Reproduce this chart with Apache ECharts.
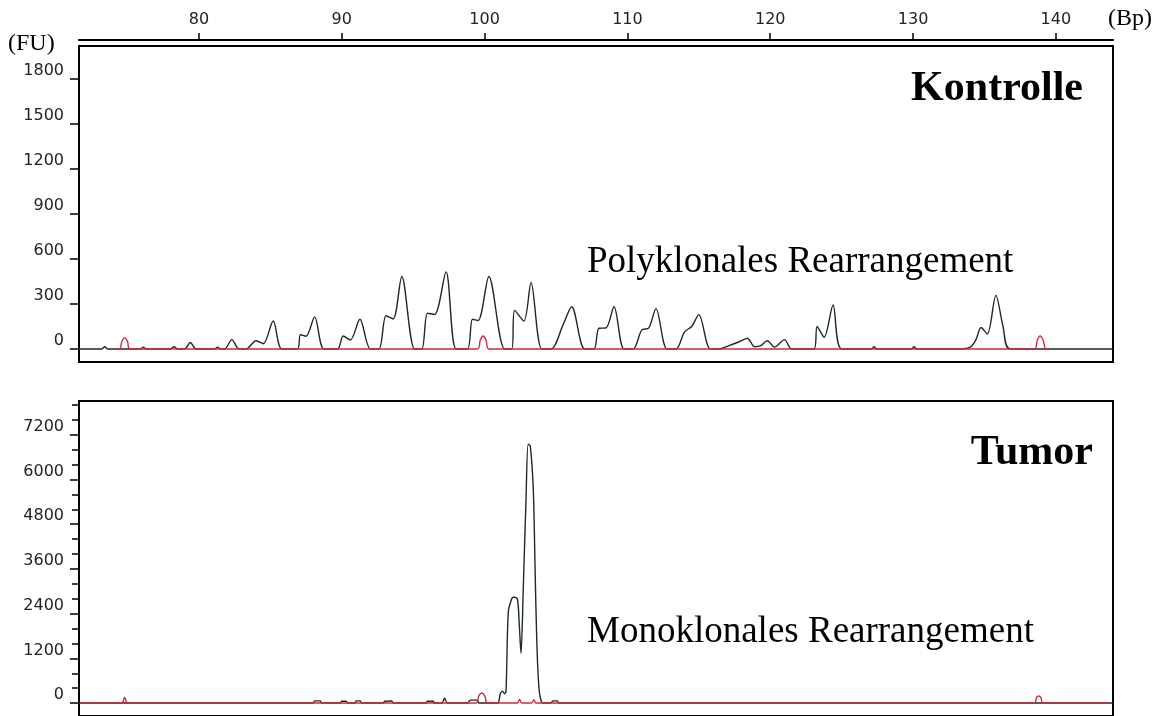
<!DOCTYPE html>
<html>
<head>
<meta charset="utf-8">
<title>Kontrolle / Tumor</title>
<script src="https://cdn.jsdelivr.net/npm/echarts@6/dist/echarts.min.js"></script>
<style>
    html, body { margin: 0; padding: 0; background: #fff; }
    #chart { width: 1167px; height: 716px; }
</style>
</head>
<body>
<div id="chart"></div>
<script>
// fragment length axis (Bp)
const bpTicks = [80, 90, 100, 110, 120, 130, 140];
const bpMin = 71.6;
const bpMax = 144.0;

// fluorescence axes (FU)
const kontrolleTicks = [0, 300, 600, 900, 1200, 1500, 1800];
const tumorTicks = [0, 1200, 2400, 3600, 4800, 6000, 7200];
const tumorMinorTicks = [400, 800, 1600, 2000, 2800, 3200, 4000, 4400, 5200, 5600, 6400, 6800, 7600, 8000];

// Kontrolle: sample trace [bp, FU]
const kontrolleBlack = [
    [71.6, 0], [73.2, 0], [73.4, 15], [73.6, 0],
    [75.9, 0], [76.1, 12], [76.3, 0],
    [78.0, 0], [78.25, 15], [78.5, 0],
    [79.0, 0], [79.4, 43], [79.8, 0],
    [81.1, 0], [81.3, 12], [81.5, 0],
    [81.8, 0], [82.3, 62], [82.8, 0],
    [83.3, 0], [84.0, 55], [84.5, 35], [85.2, 186], [85.8, 0],
    [86.9, 0], [87.1, 95], [87.5, 85], [88.1, 214], [88.75, 0],
    [89.7, 0], [90.1, 86], [90.6, 60], [91.27, 198], [92.0, 0],
    [92.6, 0], [93.1, 221], [93.6, 200], [94.2, 483], [95.1, 0],
    [95.6, 0], [96.0, 238], [96.5, 230], [97.3, 514], [98.0, 0],
    [98.8, 0], [99.15, 198], [99.55, 190], [100.3, 483], [101.4, 0],
    [101.9, 0], [102.1, 257], [102.75, 186], [103.25, 443], [104.0, 0],
    [104.65, 0], [105.5, 162], [106.1, 281], [107.0, 0],
    [107.66, 0], [108.0, 138], [108.5, 140], [109.06, 281], [109.76, 0],
    [110.4, 0], [111.0, 126], [111.5, 140], [112.0, 269], [112.77, 0],
    [113.4, 0], [114.0, 114], [114.5, 150], [115.0, 229], [115.8, 0],
    [116.4, 0], [117.2, 25], [118.0, 55], [118.4, 71], [118.9, 15], [119.3, 20], [119.8, 55], [120.3, 12], [121.0, 62], [121.5, 0],
    [123.07, 0], [123.28, 150], [123.77, 78], [124.4, 293], [125.0, 0],
    [127.1, 0], [127.27, 15], [127.45, 0],
    [129.9, 0], [130.07, 15], [130.25, 0],
    [133.3, 0], [134.0, 12], [134.4, 60], [134.76, 143], [135.2, 100], [135.8, 357], [136.3, 150], [136.8, 0],
    [144.0, 0]
];

// Kontrolle: size marker trace
const kontrolleRed = [
    [74.1, 0], [74.45, 0], [74.6, 50], [74.8, 74], [75.0, 50], [75.15, 0],
    [99.5, 0], [99.7, 60], [99.9, 86], [100.1, 60], [100.3, 0],
    [138.5, 0], [138.7, 60], [138.9, 86], [139.1, 60], [139.3, 0], [139.6, 0]
];

// Tumor: sample trace
const tumorBlack = [
    [71.6, 0],
    [88.0, 0], [88.1, 60], [88.5, 60], [88.6, 0],
    [89.9, 0], [90.0, 50], [90.3, 50], [90.4, 0],
    [90.9, 0], [91.0, 60], [91.3, 60], [91.4, 0],
    [92.9, 0], [93.0, 50], [93.5, 60], [93.6, 0],
    [95.9, 0], [96.0, 50], [96.4, 50], [96.5, 0],
    [97.0, 0], [97.2, 130], [97.4, 0],
    [98.8, 0], [99.0, 80], [99.5, 80], [99.6, 0],
    [100.9, 0], [101.1, 250], [101.25, 320], [101.4, 250], [101.5, 320], [101.66, 2444], [101.9, 2800], [102.01, 2840],
    [102.29, 2800], [102.43, 2089], [102.55, 1333], [102.71, 3111], [102.9, 5467], [103.05, 6950], [103.2, 6890],
    [103.41, 5733], [103.53, 3689], [103.65, 1733], [103.83, 311], [104.1, 0],
    [104.6, 0], [104.8, 60], [105.1, 60], [105.2, 0],
    [144.0, 0]
];

// Tumor: size marker trace
const tumorRed = [
    [71.7, 0], [74.6, 0], [74.8, 160], [75.0, 0],
    [99.4, 0], [99.6, 200], [99.8, 270], [100.0, 200], [100.2, 0],
    [102.3, 0], [102.45, 100], [102.6, 0],
    [103.3, 0], [103.45, 90], [103.6, 0],
    [138.5, 0], [138.65, 150], [138.8, 190], [138.95, 150], [139.1, 0], [143.6, 0]
];

const traceColor = '#1c2b1c';
const markerColor = '#cc2a44';
const labelFont = { fontFamily: 'DejaVu Sans', fontSize: 16, color: '#222' };
const serif = 'Liberation Serif';

var chart = echarts.init(document.getElementById('chart'), null, { renderer: 'canvas' });

var plainNumber = function (v) {
    return String(v);
};

var valueAxis = function (gridIndex, min, max, ticks) {
    return {
        type: 'value',
        gridIndex: gridIndex,
        min: min,
        max: max,
        splitLine: { show: false },
        axisLine: { show: true, onZero: false, lineStyle: { color: '#000', width: 2 } },
        axisTick: { show: true, inside: false, length: 9, customValues: ticks, lineStyle: { color: '#000', width: 1.5 } },
        axisLabel: Object.assign({ show: true, customValues: ticks, margin: 15, verticalAlign: 'bottom', formatter: plainNumber }, labelFont)
    };
};

var traceSeries = function (axisIndex, data, color, z) {
    return {
        type: 'line',
        xAxisIndex: axisIndex,
        yAxisIndex: axisIndex,
        data: data,
        showSymbol: false,
        smooth: 0.3,
        z: z,
        lineStyle: { color: color, width: 1.4 },
        emphasis: { disabled: true }
    };
};

var option = {
    animation: false,
    backgroundColor: '#fff',
    grid: [
        { left: 79, width: 1034, top: 46, height: 316, show: true, borderColor: '#000', borderWidth: 2, backgroundColor: 'transparent' },
        { left: 79, width: 1034, top: 401, height: 317, show: true, borderColor: '#000', borderWidth: 2, backgroundColor: 'transparent' }
    ],
    xAxis: [{
        type: 'value',
        gridIndex: 0,
        position: 'top',
        offset: 6,
        min: bpMin,
        max: bpMax,
        splitLine: { show: false },
        axisLine: { show: true, onZero: false, lineStyle: { color: '#000', width: 2 } },
        axisTick: { show: true, inside: false, length: 7, customValues: bpTicks, lineStyle: { color: '#000', width: 1.5 } },
        axisLabel: Object.assign({ show: true, customValues: bpTicks, margin: 12, formatter: plainNumber }, labelFont)
    }, {
        type: 'value',
        gridIndex: 1,
        min: bpMin,
        max: bpMax,
        show: false,
        axisLine: { onZero: false }
    }],
    yAxis: [
        valueAxis(0, -87, 2020, kontrolleTicks),
        valueAxis(1, -347, 8107, tumorTicks),
        {
            type: 'value',
            gridIndex: 1,
            position: 'left',
            min: -347,
            max: 8107,
            splitLine: { show: false },
            axisLine: { show: false, onZero: false },
            axisLabel: { show: false },
            axisTick: { show: true, inside: false, length: 7, customValues: tumorMinorTicks, lineStyle: { color: '#000', width: 1.5 } }
        }
    ],
    series: [
        traceSeries(0, kontrolleBlack, traceColor, 2),
        traceSeries(0, kontrolleRed, markerColor, 3),
        traceSeries(1, tumorBlack, traceColor, 2),
        traceSeries(1, tumorRed, markerColor, 3)
    ],
    graphic: [
        { type: 'text', left: 8, top: 32, style: { text: '(FU)', font: '24px "' + serif + '"', fill: '#000' } },
        { type: 'text', left: 1108, top: 7, style: { text: '(Bp)', font: '24px "' + serif + '"', fill: '#000' } },
        { type: 'text', x: 1083, y: 89, style: { text: 'Kontrolle', font: 'bold 42px "' + serif + '"', fill: '#000', align: 'right', verticalAlign: 'middle' } },
        { type: 'text', x: 1093, y: 453, style: { text: 'Tumor', font: 'bold 42px "' + serif + '"', fill: '#000', align: 'right', verticalAlign: 'middle' } },
        { type: 'text', x: 587, y: 262, style: { text: 'Polyklonales Rearrangement', font: '37px "' + serif + '"', fill: '#000', align: 'left', verticalAlign: 'middle' } },
        { type: 'text', x: 587, y: 632, style: { text: 'Monoklonales Rearrangement', font: '37px "' + serif + '"', fill: '#000', align: 'left', verticalAlign: 'middle' } }
    ]
};

chart.setOption(option);
</script>
</body>
</html>
